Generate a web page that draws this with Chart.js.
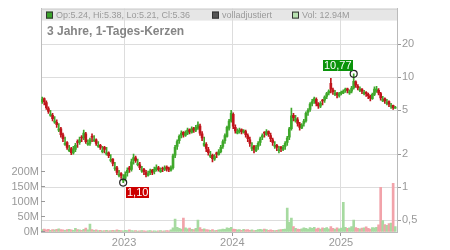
<!DOCTYPE html>
<html>
<head>
<meta charset="utf-8">
<script src="https://cdn.jsdelivr.net/npm/chart.js@4.4.1/dist/chart.umd.min.js"></script>
<style>
  html, body { margin: 0; padding: 0; background: #fff; }
  canvas { display: block; }
</style>
</head>
<body>
<canvas id="chart" width="450" height="250"></canvas>
<script>
// weekly candles, first week starting 2022-03-28
const firstWeek = "2022-03-28";

const opens = [
  6.0, 6.4, 5.9, 5.2, 4.5, 4.5, 3.9, 3.9, 3.3, 3.4,
  3.0, 2.45, 2.55, 2.15, 2.25, 2.05, 2.2, 2.6, 2.55, 2.85,
  2.8, 3.05, 2.45, 2.5, 2.9, 2.65, 2.7, 2.35, 2.4, 2.1,
  2.3, 2.0, 2.05, 1.75, 1.8, 1.48, 1.5, 1.28, 1.33, 1.15,
  1.2, 1.35, 1.5, 1.45, 1.75, 1.85, 1.6, 1.6, 1.4, 1.45,
  1.36, 1.28, 1.35, 1.42, 1.38, 1.44, 1.5, 1.38, 1.48, 1.45,
  1.52, 1.49, 1.43, 1.5, 1.95, 2.35, 2.65, 2.95, 3.15, 2.95,
  3.1, 3.35, 3.15, 3.45, 3.3, 3.45, 3.6, 3.05, 2.4, 2.45,
  2.2, 1.9, 1.95, 1.8, 2.05, 1.98, 2.1, 2.35, 2.65, 2.9,
  3.45, 4.0, 4.6, 3.5, 3.1, 3.2, 3.35, 3.15, 3.2, 2.95,
  2.7, 2.25, 2.35, 2.15, 2.35, 2.55, 2.85, 3.15, 3.0, 3.2,
  2.95, 2.7, 2.35, 2.4, 2.15, 2.3, 2.2, 2.35, 2.55, 2.85,
  3.4, 4.5, 4.0, 4.1, 3.75, 3.45, 3.8, 4.0, 4.8, 5.1,
  5.8, 6.1, 6.3, 5.75, 5.45, 6.2, 6.2, 6.7, 7.2, 8.8,
  7.7, 7.0, 7.1, 6.8, 7.1, 7.2, 7.6, 7.85, 7.2, 7.5,
  8.0, 9.1, 8.3, 7.6, 7.8, 7.1, 7.3, 7.0, 6.7, 6.4,
  7.0, 7.5, 7.6, 7.1, 6.1, 6.4, 5.8, 6.0, 5.45, 5.55, 5.24
];

const highs = [
  6.6, 6.5, 6.1, 5.4, 5.0, 4.7, 4.4, 4.1, 3.8, 3.5,
  3.1, 2.85, 2.6, 2.4, 2.3, 2.35, 2.5, 2.7, 2.85, 2.95,
  3.3, 3.15, 2.7, 2.8, 3.05, 2.95, 2.75, 2.6, 2.45, 2.35,
  2.35, 2.3, 2.1, 1.98, 1.82, 1.68, 1.55, 1.42, 1.36, 1.3,
  1.38, 1.5, 1.55, 1.8, 2.0, 1.92, 1.8, 1.68, 1.55, 1.48,
  1.42, 1.4, 1.46, 1.45, 1.52, 1.6, 1.55, 1.5, 1.52, 1.56,
  1.56, 1.52, 1.56, 2.0, 2.4, 2.7, 3.0, 3.25, 3.2, 3.25,
  3.45, 3.4, 3.55, 3.5, 3.65, 3.93, 3.75, 3.2, 2.85, 2.55,
  2.3, 2.12, 2.0, 1.98, 2.08, 2.2, 2.4, 2.7, 3.05, 3.6,
  4.15, 5.0, 4.75, 3.7, 3.4, 3.45, 3.4, 3.35, 3.3, 3.05,
  2.85, 2.55, 2.4, 2.4, 2.6, 2.85, 3.05, 3.2, 3.35, 3.25,
  3.1, 2.8, 2.6, 2.45, 2.35, 2.35, 2.4, 2.6, 2.9, 3.5,
  5.26, 4.7, 4.5, 4.3, 3.9, 3.8, 4.15, 4.85, 5.2, 5.9,
  6.3, 6.6, 6.5, 5.9, 6.0, 6.3, 6.8, 7.3, 7.7, 9.8,
  8.0, 7.6, 7.3, 7.3, 7.5, 7.7, 8.0, 8.0, 7.7, 8.3,
  10.77, 9.3, 8.6, 8.2, 7.9, 7.6, 7.4, 7.2, 6.9, 7.2,
  8.2, 8.3, 7.9, 7.3, 6.7, 6.5, 6.3, 6.1, 5.8, 5.6, 5.45
];

const lows = [
  5.8, 5.6, 5.1, 4.7, 4.4, 4.0, 3.8, 3.5, 3.2, 2.85,
  2.6, 2.4, 2.2, 2.1, 1.98, 2.0, 2.1, 2.3, 2.45, 2.6,
  2.7, 2.5, 2.4, 2.4, 2.6, 2.6, 2.4, 2.3, 2.2, 2.05,
  2.05, 1.95, 1.85, 1.7, 1.56, 1.42, 1.3, 1.24, 1.2, 1.10,
  1.14, 1.26, 1.36, 1.4, 1.62, 1.68, 1.56, 1.44, 1.36, 1.3,
  1.24, 1.26, 1.3, 1.3, 1.32, 1.4, 1.4, 1.36, 1.38, 1.41,
  1.4, 1.38, 1.4, 1.46, 1.85, 2.2, 2.5, 2.8, 2.85, 2.9,
  3.0, 3.05, 3.1, 3.15, 3.2, 3.35, 2.95, 2.65, 2.35, 2.1,
  1.95, 1.85, 1.7, 1.75, 1.85, 1.95, 2.05, 2.25, 2.5, 2.85,
  3.3, 3.9, 3.4, 3.1, 3.05, 3.1, 3.05, 3.1, 2.85, 2.6,
  2.35, 2.15, 2.05, 2.1, 2.2, 2.4, 2.7, 2.85, 2.95, 2.9,
  2.6, 2.4, 2.25, 2.15, 2.05, 2.1, 2.15, 2.2, 2.4, 2.7,
  3.3, 4.0, 3.9, 3.6, 3.3, 3.4, 3.6, 3.9, 4.5, 4.9,
  5.5, 5.8, 5.5, 5.2, 5.3, 5.6, 5.9, 6.4, 6.9, 7.2,
  7.0, 6.8, 6.5, 6.6, 6.9, 7.1, 7.3, 7.2, 7.0, 7.2,
  7.8, 8.1, 7.7, 7.4, 7.1, 6.9, 6.7, 6.4, 6.1, 6.3,
  6.8, 7.3, 6.9, 6.2, 6.0, 5.8, 5.6, 5.4, 5.2, 5.1, 5.21
];

const closes = [
  6.3, 6.0, 5.3, 4.9, 4.6, 4.2, 4.0, 3.7, 3.4, 3.0,
  2.76, 2.5, 2.3, 2.2, 2.06, 2.2, 2.4, 2.55, 2.7, 2.8,
  3.1, 2.6, 2.5, 2.7, 2.85, 2.7, 2.5, 2.4, 2.3, 2.15,
  2.2, 2.05, 1.93, 1.78, 1.64, 1.5, 1.36, 1.3, 1.28, 1.18,
  1.3, 1.42, 1.45, 1.7, 1.86, 1.75, 1.64, 1.5, 1.42, 1.38,
  1.3, 1.33, 1.4, 1.36, 1.45, 1.51, 1.45, 1.42, 1.46, 1.5,
  1.48, 1.44, 1.5, 1.93, 2.3, 2.6, 2.9, 3.1, 3.0, 3.1,
  3.3, 3.2, 3.4, 3.3, 3.5, 3.7, 3.1, 2.8, 2.5, 2.25,
  2.06, 1.95, 1.82, 1.9, 2.0, 2.1, 2.3, 2.6, 2.95, 3.5,
  4.0, 4.7, 3.6, 3.25, 3.2, 3.3, 3.2, 3.25, 3.0, 2.76,
  2.5, 2.3, 2.2, 2.3, 2.5, 2.76, 2.95, 3.1, 3.2, 3.05,
  2.76, 2.55, 2.4, 2.3, 2.2, 2.25, 2.3, 2.5, 2.8, 3.4,
  4.45, 4.3, 4.2, 3.8, 3.5, 3.7, 4.0, 4.7, 5.0, 5.7,
  6.0, 6.4, 5.8, 5.5, 5.8, 6.1, 6.6, 7.1, 7.5, 7.8,
  7.4, 7.2, 6.9, 7.1, 7.3, 7.5, 7.8, 7.6, 7.4, 8.0,
  9.2, 8.5, 8.0, 7.8, 7.5, 7.3, 7.1, 6.8, 6.5, 7.0,
  7.8, 7.8, 7.2, 6.5, 6.3, 6.1, 5.9, 5.7, 5.5, 5.3, 5.36
];

// volume in millions
const volumes = [
  8, 10, 7, 9, 6, 8, 7, 9, 11, 8,
  7, 6, 8, 9, 7, 6, 12, 8, 7, 6,
  9, 13, 7, 27, 8, 6, 7, 5, 6, 4,
  5, 6, 4, 5, 6, 5, 7, 6, 5, 4,
  6, 5, 7, 5, 4, 5, 3, 4, 5, 4,
  3, 4, 5, 3, 4, 3, 4, 5, 3, 4,
  5, 4, 7, 14, 43, 16, 12, 10, 47, 14,
  11, 13, 9, 8, 12, 40, 15, 9, 11, 8,
  7, 6, 8, 5, 6, 7, 8, 10, 9, 14,
  12, 16, 10, 9, 7, 8, 6, 9, 7, 8,
  6, 7, 5, 6, 8, 9, 7, 10, 8, 6,
  7, 6, 5, 6, 7, 8, 9, 10, 80, 33,
  47, 18, 12, 10, 9, 11, 14, 12, 10, 15,
  12, 16, 11, 13, 10, 14, 12, 15, 11, 18,
  12, 10, 14, 11, 13, 100, 16, 12, 14, 18,
  40, 15, 12, 11, 13, 14, 17, 12, 10, 15,
  14, 16, 24, 150, 38, 25, 22, 28, 30, 163, 18
];

const yearTickDates = ["2023-01-01", "2024-01-01", "2025-01-01"];
const yearTickLabels = ["2023", "2024", "2025"];
const priceTicks = [0.5, 1, 2, 5, 10, 20];
const priceTickLabels = ["0,5", "1", "2", "5", "10", "20"];
const volTicks = [0, 50, 100, 150, 200];
const volTickLabels = ["0M", "50M", "100M", "150M", "200M"];

const titleText = "3 Jahre, 1-Tages-Kerzen";
const legendTexts = ["Op:5.24, Hi:5.38, Lo:5.21, Cl:5.36", "volladjustiert", "Vol: 12.94M"];
const legendColors = ["#3aa52a", "#555555", "#b8e2b0"];

const RED = "#c0141b";
const GREEN = "#3fa82b";
const FONT = '"Liberation Sans", Arial, sans-serif';

function dayOf(s) {
    const p = s.split("-").map(Number);
    return (Date.UTC(p[0], p[1] - 1, p[2]) - Date.UTC(2023, 0, 1)) / 86400000;
}

const yearDays = yearTickDates.map(dayOf);
const startDay = dayOf(firstWeek);

let wickData = [], bodyData = [], volData = [];
let candleColors = [], volColors = [];
for (let i = 0; i < closes.length; i++) {
    const x = startDay + 7 * i + 3;
    const up = closes[i] >= opens[i];
    wickData.push({x: x, y: [lows[i], highs[i]]});
    bodyData.push({x: x, y: [opens[i], closes[i]]});
    volData.push({x: x, y: volumes[i]});
    candleColors.push(up ? GREEN : RED);
    volColors.push(up ? "#a6daa0" : "#f2a3aa");
}

// highest high / lowest low markers
let hiIdx = 0, loIdx = 0;
highs.forEach((v, i) => { if (v > highs[hiIdx]) hiIdx = i; });
lows.forEach((v, i) => { if (v < lows[loIdx]) loIdx = i; });

const decorations = {
    id: "decorations",
    beforeDraw(chart) {
        const {ctx, chartArea: a} = chart;
        ctx.save();
        ctx.fillStyle = "#e6e6e6";
        ctx.fillRect(a.left, a.top, a.right - a.left, 12);
        ctx.restore();
    },
    afterDraw(chart) {
        const {ctx, chartArea: a, scales} = chart;
        ctx.save();
        ctx.lineWidth = 1;
        ctx.strokeStyle = "#cccccc";
        ctx.beginPath();
        ctx.moveTo(a.left, a.top + 0.5);
        ctx.lineTo(a.right, a.top + 0.5);
        ctx.stroke();

        // small inner ticks of the volume axis
        ctx.strokeStyle = "#999999";
        volTicks.forEach(v => {
            const y = Math.round(scales.yVol.getPixelForValue(v)) - 0.5;
            ctx.beginPath();
            ctx.moveTo(a.left, y);
            ctx.lineTo(a.left + 4, y);
            ctx.stroke();
        });

        // legend band
        const legendX = [a.left + 5, a.left + 171, a.left + 251];
        ctx.font = "9px " + FONT;
        ctx.textBaseline = "middle";
        legendTexts.forEach((t, i) => {
            const x = legendX[i];
            ctx.fillStyle = legendColors[i];
            ctx.fillRect(x, a.top + 3, 7, 7);
            ctx.strokeStyle = "#333333";
            ctx.strokeRect(x + 0.5, a.top + 3.5, 6, 6);
            ctx.fillStyle = "#9a9a9a";
            ctx.fillText(t, x + 10, a.top + 7);
        });

        ctx.font = "bold 12px " + FONT;
        ctx.fillStyle = "#858585";
        ctx.fillText(titleText, a.left + 6, a.top + 23);

        // hi / lo markers
        const px = scales.x, py = scales.yPrice;
        ctx.font = "11px " + FONT;
        const marks = [
            {i: hiIdx, v: highs[hiIdx], bg: "#0a930a", up: true},
            {i: loIdx, v: lows[loIdx], bg: "#cc0000", up: false}
        ];
        marks.forEach(m => {
            const cx = px.getPixelForValue(startDay + 7 * m.i + 3);
            const cy = py.getPixelForValue(m.v);
            ctx.strokeStyle = "#222222";
            ctx.lineWidth = 1.2;
            ctx.beginPath();
            ctx.arc(cx, cy, 3.5, 0, Math.PI * 2);
            ctx.stroke();
            const label = m.v.toFixed(2).replace(".", ",");
            const w = ctx.measureText(label).width + 2;
            const bx = m.up ? cx - 1 - w : cx + 3;
            const by = m.up ? cy - 14 : cy + 4;
            ctx.fillStyle = m.bg;
            ctx.fillRect(Math.round(bx), Math.round(by), Math.round(w), 11);
            ctx.fillStyle = "#ffffff";
            ctx.textBaseline = "middle";
            ctx.fillText(label, Math.round(bx) + 1, Math.round(by) + 6);
        });
        ctx.restore();
    }
};

const chart = new Chart(document.getElementById("chart"), {
    type: "bar",
    data: {
        datasets: [
            {
                data: wickData,
                yAxisID: "yPrice",
                backgroundColor: candleColors,
                barThickness: 1,
                grouped: false,
                order: 2
            },
            {
                data: bodyData,
                yAxisID: "yPrice",
                backgroundColor: candleColors,
                barThickness: 2,
                grouped: false,
                order: 1
            },
            {
                data: volData,
                yAxisID: "yVol",
                backgroundColor: volColors,
                barThickness: 2,
                grouped: false,
                order: 3
            }
        ]
    },
    options: {
        responsive: false,
        devicePixelRatio: 1,
        animation: false,
        layout: { padding: { top: 7, left: 0, right: 0, bottom: 0 } },
        plugins: {
            legend: { display: false },
            tooltip: { enabled: false }
        },
        scales: {
            x: {
                type: "linear",
                min: -280,
                max: 920,
                offset: false,
                grid: { color: "#dddddd", offset: false, tickLength: 4, tickColor: "#999999" },
                border: { color: "#bbbbbb" },
                afterBuildTicks: scale => { scale.ticks = yearDays.map(v => ({value: v})); },
                afterFit: scale => { scale.height = 18; },
                ticks: {
                    color: "#999999",
                    font: { family: FONT, size: 11 },
                    padding: 0,
                    maxRotation: 0,
                    autoSkip: false,
                    callback: v => yearTickLabels[yearDays.indexOf(v)]
                }
            },
            yVol: {
                type: "linear",
                position: "left",
                min: 0,
                max: 750,
                grid: { drawOnChartArea: false, drawTicks: false },
                border: { color: "#bbbbbb" },
                afterBuildTicks: scale => { scale.ticks = volTicks.map(v => ({value: v})); },
                afterFit: scale => { scale.width = 41; },
                ticks: {
                    color: "#999999",
                    font: { family: FONT, size: 11 },
                    padding: 2,
                    callback: v => volTickLabels[volTicks.indexOf(v)]
                }
            },
            yPrice: {
                type: "logarithmic",
                position: "right",
                min: 0.39,
                max: 42.3,
                grid: { color: "#dddddd", tickLength: 4, tickColor: "#999999" },
                border: { color: "#bbbbbb" },
                afterBuildTicks: scale => { scale.ticks = priceTicks.map(v => ({value: v})); },
                afterFit: scale => { scale.width = 53; },
                ticks: {
                    color: "#999999",
                    font: { family: FONT, size: 11 },
                    padding: 1,
                    callback: v => priceTickLabels[priceTicks.indexOf(v)]
                }
            }
        }
    },
    plugins: [decorations]
});
</script>
</body>
</html>
